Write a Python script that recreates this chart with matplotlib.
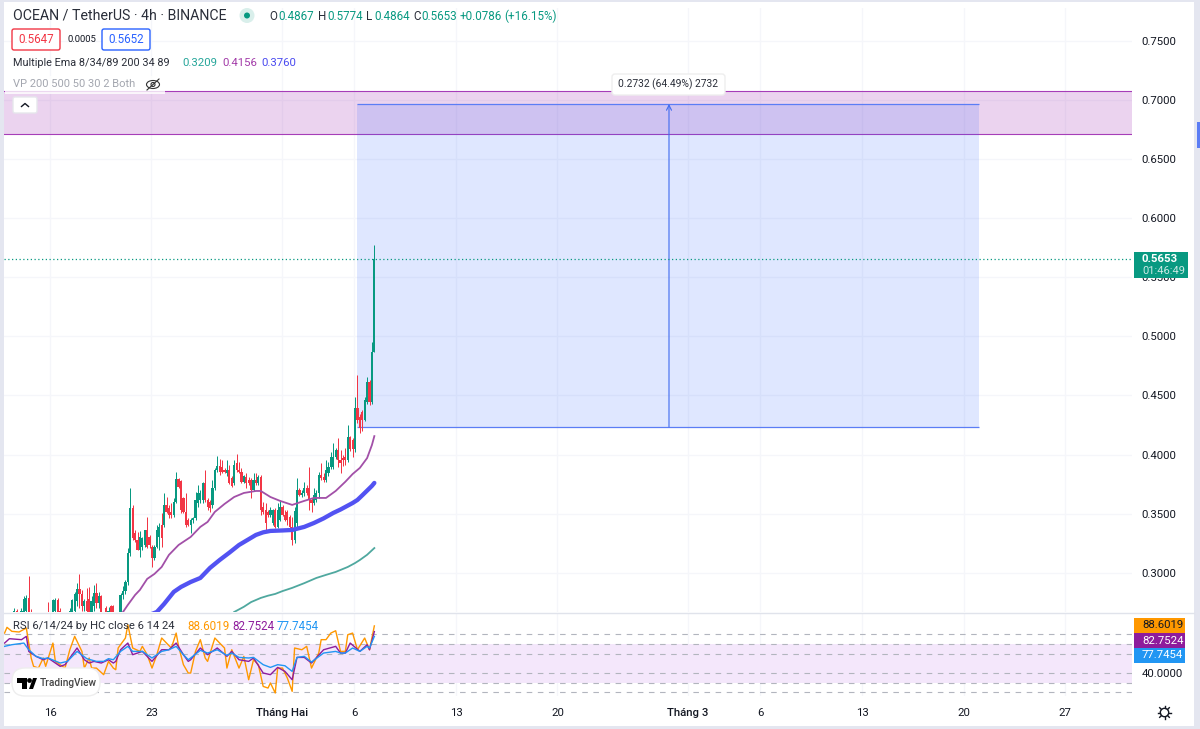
import numpy as np
import matplotlib
matplotlib.use('Agg')
import matplotlib.pyplot as plt
from matplotlib.patches import Rectangle, FancyBboxPatch, Circle, Ellipse, Polygon

plt.rcParams['font.family'] = ['Roboto', 'DejaVu Sans']

# 4h candles (anything under 0.267 is behind the RSI pane)
opens = [.252, .255, .252, .254, .260, .268, .260, .262, .266, .268, .279, .267, .258, .255, .252, .254, .256, .254,
         .262, .255, .262, .268, .277, .268, .256, .254, .256, .258, .264, .268, .276, .286, .282, .272, .276, .278,
         .266, .272, .283, .274, .280, .258, .270, .262, .272, .272, .256, .254, .262, .2815, .2845, .2925,
         .3165, .3545, .3334, .3278, .3193, .3222, .3235, .3362, .3306, .3222, .3122, .3222, .3306, .3405, .3405,
         .3574, .3546, .3517, .3489, .3602, .3791, .3778, .3630, .3517, .3447, .3404, .3447, .3461, .3588, .3616,
         .3616, .3757, .3616, .3602, .3574, .3715, .3870, .3904, .3898, .3870, .3842, .3870, .3800, .3757, .3926,
         .3870, .3856, .3771, .3813, .3785, .3785, .3700, .3785, .3757, .3813, .3560, .3531, .3517, .3489, .3418,
         .3531, .3390, .3447, .3560, .3489, .3518, .3475, .3390, .3277, .3418, .3700, .3658, .3672, .3714, .3714,
         .3615, .3587, .3615, .3672, .3827, .3813, .3785, .3842, .3898, .3898, .3983, .4039, .3954, .3968, .3983,
         .3954, .4146, .4123, .4044, .4391, .4315, .4363, .4292, .4448, .4617, .4448, .4867]
highs = [.258, .258, .256, .262, .270, .269, .264, .270, .280, .281, .297, .269, .262, .258, .256, .258, .260, .258,
         .2755, .266, .278, .279, .279, .270, .260, .258, .260, .270, .278, .284, .291, .299, .285, .278, .287, .288,
         .280, .290, .291, .284, .281, .262, .272, .271, .273, .273, .260, .262, .2825, .289, .294, .321,
         .3715, .3574, .3362, .3348, .335, .3306, .3362, .3475, .3320, .3235, .3235, .3405, .3419, .3503, .3672,
         .3644, .3574, .3588, .3630, .3856, .3800, .3785, .3644, .3672, .3460, .3460, .3475, .3686, .3743, .3700,
         .3771, .3870, .3630, .3616, .3785, .3884, .3988, .3960, .3954, .3890, .3954, .3912, .3815, .3954, .4005,
         .3940, .3884, .3830, .3841, .3813, .3800, .3841, .3841, .3830, .3830, .3600, .3590, .3530, .3560, .3540,
         .3545, .3587, .3616, .3573, .3531, .3530, .3490, .3475, .3560, .3799, .3714, .3700, .3771, .3742, .3892,
         .3630, .3714, .3700, .3856, .3926, .3841, .3954, .3940, .4025, .4095, .4053, .4137, .4039, .4000, .4053,
         .4250, .4160, .4137, .4490, .4673, .4340, .4380, .4490, .4660, .4630, .4953, .5774]
lows = [.248, .250, .249, .252, .258, .258, .256, .260, .264, .266, .262, .260, .252, .250, .248, .250, .252, .250,
        .250, .252, .260, .264, .262, .258, .250, .250, .252, .256, .260, .266, .272, .270, .268, .268, .264, .260,
        .262, .268, .270, .270, .258, .252, .258, .260, .258, .258, .252, .252, .258, .278, .282, .290,
        .3145, .3278, .3264, .3193, .3137, .3193, .3222, .3208, .3207, .3052, .3108, .3208, .3193, .3221, .3391,
        .3503, .3461, .3461, .3475, .3588, .3715, .3503, .3503, .3390, .3396, .3334, .3420, .3447, .3560, .3590,
        .3590, .3600, .3531, .3518, .3546, .3700, .3850, .3828, .3842, .3840, .3820, .3750, .3729, .3740, .3850,
        .3840, .3757, .3763, .3714, .3740, .3630, .3690, .3740, .3740, .3489, .3500, .3362, .3470, .3475, .3404,
        .3376, .3376, .3440, .3480, .3440, .3404, .3380, .3235, .3250, .3390, .3650, .3640, .3650, .3660, .3531,
        .3517, .3570, .3600, .3630, .3785, .3770, .3770, .3820, .3880, .3880, .3960, .3898, .3841, .3900, .3912,
        .3940, .4030, .3980, .4020, .4265, .4180, .4200, .4280, .4430, .4420, .4430, .4864]
closes = [.255, .252, .254, .260, .268, .260, .262, .268, .278, .279, .262, .265, .255, .252, .254, .256, .254, .256,
          .255, .262, .277, .277, .266, .262, .254, .256, .258, .268, .277, .282, .286, .282, .272, .276, .268, .262,
          .276, .283, .274, .280, .262, .256, .262, .268, .262, .262, .254, .258, .2815, .2845, .2925, .3165,
          .3545, .3292, .3278, .3193, .3306, .3292, .3362, .3222, .3235, .3122, .3222, .3362, .3390, .3292, .3574,
          .3517, .3489, .3489, .3602, .3791, .3729, .3531, .3517, .3404, .3404, .3447, .3461, .3616, .3672, .3672,
          .3757, .3616, .3560, .3546, .3715, .3870, .3904, .3856, .3856, .3856, .3870, .3757, .3735, .3912, .3870,
          .3856, .3771, .3819, .3757, .3757, .3700, .3785, .3757, .3813, .3531, .3517, .3418, .3489, .3531, .3531,
          .3390, .3531, .3560, .3489, .3447, .3447, .3390, .3277, .3522, .3700, .3658, .3672, .3714, .3672, .3615,
          .3587, .3658, .3672, .3827, .3799, .3785, .3870, .3898, .3983, .3983, .4039, .3954, .3926, .3954, .3954,
          .4146, .4044, .4044, .4391, .4292, .4222, .4292, .4462, .4617, .4448, .4868, .5653]

# moving averages: bar number and price
ema34_bars = [46, 49, 51, 54, 56, 59, 62, 65, 68, 72, 77, 81, 84, 87, 91, 95, 99, 104, 106, 110, 114, 119, 124, 128,
              133, 137, 141, 144, 147, 150, 152, 153]
ema34 = [.2628, .2668, .2728, .2812, .2855, .2948, .2990, .3049, .3151, .3235, .3303, .3388, .3430, .3515, .3582,
         .3641, .3675, .3692, .3692, .3641, .3608, .3574, .3608, .3633, .3633, .3692, .3770, .3835, .3887, .3970,
         .4081, .4156]
ema89_bars = [58, 63, 66, 68, 70, 73, 77, 81, 85, 89, 93, 97, 104, 107, 110, 115, 119, 124, 128, 132, 136, 139, 141,
              144, 146, 148, 150, 152, 153]
ema89 = [.2628, .2668, .2736, .2787, .2838, .2880, .2922, .2956, .3041, .3108, .3170, .3235, .3320, .3342, .3354,
         .3358, .3362, .3388, .3421, .3460, .3506, .3535, .3557, .3590, .3616, .3655, .3695, .3735, .3760]
ema200_bars = [95, 99, 102, 106, 109, 112, 115, 119, 124, 129, 133, 137, 142, 145, 147, 150, 153]
ema200 = [.2668, .2712, .2752, .2787, .2806, .2821, .2845, .2872, .2912, .2956, .2982, .3007, .3049, .3082, .3108,
          .3152, .3209]

# RSI lines
rsi6_bars = [0, 1, 3, 6, 9, 10, 11, 12, 14, 16, 17, 20, 21, 25, 27, 29, 32, 33, 35, 36, 38, 41, 43, 45, 46, 47, 50, 51,
             53, 56, 57, 59, 61, 63, 65, 67, 69, 71, 72, 74, 76, 77, 79, 81, 83, 84, 87, 89, 91, 92, 94, 97, 99, 101,
             103, 105, 107, 109, 110, 112, 113, 115, 117, 119, 120, 123, 125, 127, 130, 131, 133, 135, 137, 139, 141,
             142, 144, 146, 149, 151, 153]
rsi6 = [81.2, 87.1, 83, 82.3, 86.4, 70.9, 55.5, 46.9, 45.1, 55.5, 46.9, 70.9, 52, 45.1, 64, 77.8, 62.3, 45.1, 55.5,
        45.1, 45.1, 38.3, 52, 45.1, 43.4, 65.8, 76.1, 89.8, 65.8, 62.3, 67.5, 58.9, 45.1, 58.9, 76.1, 70.9, 65.8, 81.2,
        67.5, 48.6, 40, 40, 62.3, 74.4, 55.5, 52, 76.1, 70.9, 65.8, 45.1, 64, 45.1, 57.2, 33.1, 53.7, 48.6, 26.2, 24.5,
        29.7, 19.4, 45.1, 45.1, 34.8, 21.1, 65.8, 64, 67.5, 45.1, 60.6, 74.4, 74.4, 81.2, 83.6, 62.3, 62.3, 79.5, 81.2,
        64, 76.1, 64, 88.6019]
rsi14_bars = [0, 2, 7, 9, 10, 13, 16, 18, 23, 25, 30, 33, 35, 37, 40, 43, 45, 46, 48, 51, 53, 57, 61, 65, 68, 71, 74,
              76, 77, 81, 84, 88, 92, 94, 97, 101, 103, 107, 110, 113, 116, 119, 121, 124, 127, 132, 137, 139, 141, 143,
              147, 150, 151, 153]
rsi14 = [70.9, 75.4, 74.4, 77.8, 62.3, 57.2, 53.7, 55.5, 46.9, 48.6, 65.8, 53.7, 50.3, 52, 50.3, 53.7, 50.3, 52, 64,
         70.9, 58.9, 62.3, 52, 64, 64, 70.9, 58.9, 52, 53.7, 65.8, 58.9, 65.8, 57.2, 62.3, 53.7, 52, 55.5, 40, 38.3,
         45.8, 41.7, 33.1, 56.1, 56.1, 50.3, 64, 67.5, 60.6, 60.6, 70.9, 62.3, 69.2, 64, 82.7524]
rsi24_bars = [0, 3, 8, 10, 13, 16, 18, 23, 26, 30, 34, 38, 41, 43, 45, 48, 51, 53, 57, 61, 65, 68, 71, 74, 76, 77, 81,
              84, 88, 92, 94, 97, 101, 103, 107, 110, 113, 116, 119, 121, 124, 127, 132, 137, 139, 141, 144, 147, 150,
              151, 153]
rsi24 = [67.5, 69.2, 70.9, 64, 57.2, 54.8, 55.5, 50.3, 52, 62.3, 54.8, 52, 52, 54.8, 53.7, 62.3, 67.5, 62.3, 62.3, 55.5,
         62.3, 64, 67.5, 58.9, 53.7, 55.5, 63.4, 60.6, 64, 58.2, 60.6, 56.1, 55.5, 56.1, 48.6, 45.8, 48.6, 47.5, 41.7,
         56.1, 57.2, 51.3, 60.6, 62.3, 60.6, 60.6, 65.8, 62.3, 67.5, 65.8, 77.7454]
rsi_levels = [80, 70, 60, 40, 30, 20]

# axis labels
price_ticks = [.30, .35, .40, .45, .50, .55, .60, .65, .70, .75]
tick_days = [16, 23, 32, 37, 44, 51, 60, 65, 72, 79, 86]
tick_names = ['16', '23', 'Tháng Hai', '6', '13', '20', 'Tháng 3', '6', '13', '20', '27']
month_names = ['Tháng Hai', 'Tháng 3']

# drawings on the chart
zone_low, zone_high = .6712, .7076
measure_low, measure_high = .4234, .6966
measure_start, measure_end = 37.17, 80.07
arrow_day = 58.69
last_price = .5653

GREEN = '#089981'
RED = '#f23645'
GRID = '#f5f6fa'
TEXT = '#131722'
W, H = 1200, 729

fig = plt.figure(figsize=(12, 7.29), dpi=100)


def pane(left, top, right, bottom):
    return fig.add_axes([left / W, 1 - bottom / H, (right - left) / W, (bottom - top) / H])


ax = pane(4, 8, 1132, 612)
rsi_ax = pane(4, 613, 1132, 696)
day_lim = (12.83, 90.62)


def bar_day(bars):
    return 38.37 + (np.asarray(bars, dtype=float) - 153) / 6


# price pane
days = bar_day(np.arange(len(closes)))
o, h, l, c = map(np.array, (opens, highs, lows, closes))
colors = np.where(c >= o, GREEN, RED)
ax.axhspan(zone_low, zone_high, color='#9c27b0', alpha=.2, lw=0, zorder=1)
ax.axhline(zone_low, color='#a63db8', lw=.8, zorder=2)
ax.axhline(zone_high, color='#a63db8', lw=.8, zorder=2)
ax.add_patch(Rectangle((measure_start, measure_low), measure_end - measure_start, measure_high - measure_low,
                       facecolor='#2962ff', alpha=.15, lw=0, zorder=2))
ax.hlines([measure_low, measure_high], measure_start, measure_end, color='#5b7df5', lw=.9, zorder=3)
ax.annotate('', xy=(arrow_day, measure_high), xytext=(arrow_day, measure_low), zorder=3,
            arrowprops=dict(arrowstyle='->', color='#3f6bf0', lw=.8, shrinkA=0, shrinkB=0, mutation_scale=9))
ax.axhline(last_price, color=GREEN, lw=.9, ls=(0, (1, 2)), zorder=3)
ax.vlines(days, l, h, colors=colors, lw=.72, zorder=4)
ax.bar(days, np.maximum(np.abs(c - o), .0006), bottom=np.minimum(o, c), width=.15, color=colors, lw=0, zorder=5)
ax.plot(bar_day(ema200_bars), ema200, color='#4fa89f', lw=1.3, zorder=6)
ax.plot(bar_day(ema34_bars), ema34, color='#a250a8', lw=1.3, zorder=6)
ax.plot(bar_day(ema89_bars), ema89, color='#5252f2', lw=3.1, zorder=6, solid_capstyle='round')
ax.set_xlim(day_lim)
ax.set_ylim(.2668, .7778)
ax.set_yticks(price_ticks)
ax.set_yticklabels(['%.4f' % p for p in price_ticks], fontsize=8.2, color=TEXT)
ax.yaxis.tick_right()
ax.set_xticks(tick_days)
ax.set_xticklabels([])
ax.tick_params(length=0, pad=7)
ax.grid(color=GRID, lw=1)
ax.set_axisbelow(True)
for s in ax.spines.values():
    s.set_visible(False)

# RSI pane
rsi_ax.axhspan(30, 70, color='#f4e7fb', lw=0, zorder=1)
for level in rsi_levels:
    rsi_ax.axhline(level, color='#b2b5be', lw=.8, dashes=(5, 5), zorder=2)
rsi_ax.plot(bar_day(rsi6_bars), rsi6, color='#ff9800', lw=1, zorder=3)
rsi_ax.plot(bar_day(rsi14_bars), rsi14, color='#8e1c9c', lw=1, zorder=4)
rsi_ax.plot(bar_day(rsi24_bars), rsi24, color='#2196f3', lw=1, zorder=5)
rsi_ax.set_xlim(day_lim)
rsi_ax.set_ylim(16.3, 101.9)
rsi_ax.set_yticks([40])
rsi_ax.set_yticklabels(['40.0000'], fontsize=8.2, color=TEXT)
rsi_ax.yaxis.tick_right()
rsi_ax.set_xticks(tick_days)
rsi_ax.set_xticklabels(tick_names, fontsize=8.2, color=TEXT)
for label_ in rsi_ax.get_xticklabels():
    if label_.get_text() in month_names:
        label_.set_fontweight('medium')
rsi_ax.tick_params(length=0, pad=9)
rsi_ax.tick_params(axis='y', pad=7)
rsi_ax.grid(axis='x', color=GRID, lw=1)
rsi_ax.set_axisbelow(True)
for s in rsi_ax.spines.values():
    s.set_visible(False)

# everything around the chart, in screen pixels
ui = fig.add_axes([0, 0, 1, 1], zorder=10)
ui.set_xlim(0, W)
ui.set_ylim(H, 0)
ui.axis('off')
ui.patch.set_alpha(0)


def label(x, y, s, color=TEXT, size=8.2, **kw):
    kw.setdefault('va', 'center')
    ui.text(x, y, s, color=color, fontsize=size, **kw)


def box(x0, y0, x1, y1, fc='white', ec='none', r=2, lw=1, z=1):
    ui.add_patch(FancyBboxPatch((x0 + r, y0 + r), x1 - x0 - 2 * r, y1 - y0 - 2 * r,
                                boxstyle='round,pad=%d' % r, fc=fc, ec=ec, lw=lw, zorder=z))


# window frame
for x, y, w, h_ in [(0, 0, 4, H), (0, 0, W, 2), (1194, 0, 6, H), (0, 726, W, 3)]:
    ui.add_patch(Rectangle((x, y), w, h_, fc='#e4e6f0', lw=0))
ui.add_patch(Rectangle((1197, 122), 3, 26, fc='#5b7df5', lw=0))
ui.plot([4, 1194], [612.5, 612.5], color='#e0e3eb', lw=1)

# header
label(13, 15, 'OCEAN / TetherUS · 4h · BINANCE', size=10.2, color='#2a2e39')
ui.add_patch(Circle((247, 15.5), 7.5, fc='#d9efeb', lw=0))
ui.add_patch(Circle((247, 15.5), 3, fc=GREEN, lw=0))
header_x = [269, 278, 318, 327, 366, 374, 413, 421, 460, 504]
header_s = ['O', '0.4867', 'H', '0.5774', 'L', '0.4864', 'C', '0.5653', '+0.0786', '(+16.15%)']
for x, s in zip(header_x, header_s):
    label(x, 16, s, color='#2a2e39' if len(s) == 1 else GREEN, size=8.4)

box(12, 29, 60, 50, ec='#f23645')
label(36, 39.5, '0.5647', color='#f23645', ha='center', size=8.4)
label(67, 39.5, '0.0005', size=6.8)
box(102, 29, 150, 50, ec='#2962ff')
label(126, 39.5, '0.5652', color='#2962ff', ha='center', size=8.4)

label(13, 63, 'Multiple Ema 8/34/89 200 34 89', color='#2a2e39', size=7.8)
for x, s, col in [(182, '0.3209', '#26a69a'), (222, '0.4156', '#a23aa8'), (261, '0.3760', '#4a4af0')]:
    label(x, 63, s, color=col, size=8.2)

ui.add_patch(Rectangle((5, 76), 160, 18, fc='white', alpha=.8, lw=0))
label(13, 84, 'VP 200 500 50 30 2 Both', color='#a3a6af', size=8)
ui.add_patch(Ellipse((153, 84.5), 13, 8, fc='none', ec='#333333', lw=.8))
ui.add_patch(Circle((153, 84.5), 2, fc='none', ec='#333333', lw=.8))
ui.plot([147, 159], [90, 79], color='#333333', lw=.8)

box(13, 97, 37, 113, ec='#e6e7ec')
ui.plot([21.5, 25, 28.5], [106.5, 103.5, 106.5], color='#131722', lw=1)

# measure tooltip
box(612, 74, 725, 95, ec='#eeeeee', r=3, z=3)
label(668.5, 84.5, '0.2732 (64.49%) 2732', ha='center', size=7.4, color='#2a2e39', zorder=4)

# last price tag
ui.add_patch(Rectangle((1134, 252), 54, 26, fc=GREEN, lw=0, zorder=3))
label(1142, 259, '0.5653', color='white', weight='bold', size=8.2, zorder=4)
label(1142, 271, '01:46:49', color='#cdeae5', size=8, zorder=4)

# RSI legend and tags
label(13, 626, 'RSI 6/14/24 by HC close 6 14 24', color='#2a2e39', size=8.1)
for x, s, col in [(187, '88.6019', '#ff9800'), (232, '82.7524', '#8e1c9c'), (277, '77.7454', '#2196f3')]:
    label(x, 626, s, color=col, size=8.4)
for y0, s, col, tc in [(618, '88.6019', '#ff9800', TEXT), (633, '82.7524', '#8e1c9c', 'white'),
                       (647.5, '77.7454', '#2196f3', 'white')]:
    ui.add_patch(Rectangle((1134, y0), 51, 15, fc=col, lw=0, zorder=3))
    label(1142, y0 + 7.5, s, color=tc, size=8.2, zorder=4)

# logo
box(12, 668, 100, 696, ec='#eeeeee', r=13, z=3)
ui.add_patch(Polygon([(17, 678), (27, 678), (27, 689), (22, 689), (22, 683), (17, 683)], fc='black', lw=0, zorder=4))
ui.add_patch(Circle((29.5, 680.5), 2.4, fc='black', lw=0, zorder=4))
ui.add_patch(Polygon([(29, 689), (33, 678), (37, 678), (33, 689)], fc='black', lw=0, zorder=4))
label(39.5, 682.5, 'TradingView', color='#444444', size=7.3, zorder=4, weight='medium')

# settings gear
ui.add_patch(Circle((1164.5, 712.5), 4.2, fc='none', ec='#131722', lw=1))
ang = np.deg2rad(np.arange(0, 360, 45))
ui.plot(np.c_[1164.5 + 4.2 * np.cos(ang), 1164.5 + 6.8 * np.cos(ang)].T,
        np.c_[712.5 + 4.2 * np.sin(ang), 712.5 + 6.8 * np.sin(ang)].T, color='#131722', lw=1)

fig.savefig('out.png', dpi=100)
